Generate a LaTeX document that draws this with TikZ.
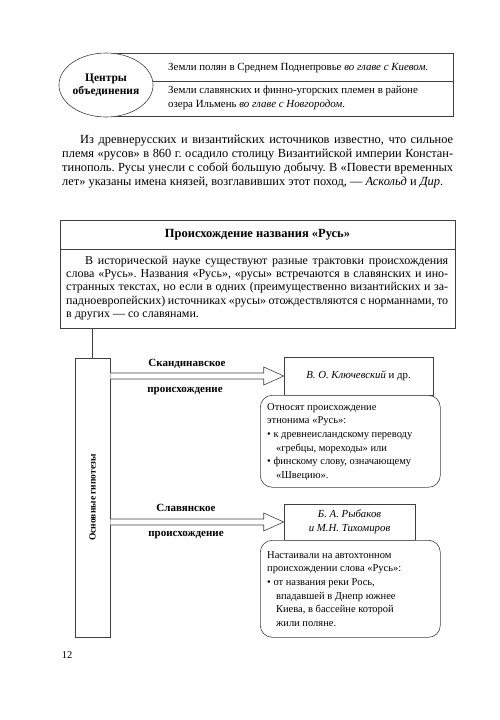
\documentclass[tikz,border=0pt]{standalone}
\usepackage{fontspec}
\setmainfont{Liberation Serif}
\usetikzlibrary{positioning,calc,shapes.geometric}

\tikzset{
  frame/.style={draw=black!75,line width=0.6pt},
  namebox/.style={frame,fill=white,inner sep=0pt,align=center,font=\fontsize{10.8}{13.5}\selectfont},
  note/.style={frame,fill=white,rounded corners=12pt,minimum width=180pt,inner sep=0pt},
  notetext/.style={anchor=north west,align=left,inner sep=0pt,font=\fontsize{10.5}{13.7}\selectfont},
  hyplabel/.style={font=\fontsize{11}{13}\selectfont\bfseries,inner sep=0pt}
}
% hollow wide arrow from #1 to the tip #2
\newcommand{\fatarrow}[2]{%
  \draw[frame,fill=white] ($(#1)+(0,-3)$) -- ($(#2)+(-20,-3)$) -- ($(#2)+(-20,-9)$)
    -- (#2) -- ($(#2)+(-20,9)$) -- ($(#2)+(-20,3)$) -- ($(#1)+(0,3)$);}

\begin{document}
\frenchspacing
\begin{tikzpicture}[x=1pt,y=-1pt,inner sep=0pt]
\useasboundingbox (0,0) rectangle (500,720);

% centres box
\draw[frame] (106,53) -- (453,53) -- (453,116) -- (106,116);
\draw[frame] (150,81) -- (453,81);
\node(c) at (106,85) [frame,ellipse,fill=white,minimum width=92pt,minimum height=64pt,align=center,
  font=\fontsize{11.5}{13.5}\selectfont\bfseries] {Центры\\объединения};
\node(z1) at (168,68) [anchor=west,font=\fontsize{10.9}{14}\selectfont]
  {Земли полян в Среднем Поднепровье \textit{во главе с Киевом}.};
\node(z2) at (168,86) [anchor=north west,align=left,font=\fontsize{10.9}{14}\selectfont]
  {Земли славянских и финно-угорских племен в районе\\озера Ильмень \textit{во главе с Новгородом}.};

% paragraph
\node(p) at (62,135) [anchor=north west,text width=391pt,align=justify,font=\fontsize{12.4}{14}\selectfont]
  {\hspace*{18pt}Из древнерусских и византийских источников известно, что сильное\linebreak
  племя «русов» в 860 г. осадило столицу Византийской империи Констан-\linebreak
  тинополь. Русы унесли с собой большую добычу. В «Повести временных\linebreak
  лет» указаны имена князей, возглавивших этот поход, — \textit{Аскольд} и \textit{Дир}.};

% origin box
\node(orig) at (257.5,274) [frame,minimum width=395pt,minimum height=108pt] {};
\draw[frame] (60,249) -- (455,249);
\node(h) at (257.5,235) [font=\fontsize{12.5}{14}\selectfont\bfseries] {Происхождение названия «Русь»};
\node(t) at (66,256) [anchor=north west,text width=382pt,align=justify,font=\fontsize{12}{13.2}\selectfont]
  {\hspace*{19pt}В исторической науке существуют разные трактовки происхождения\linebreak
  слова «Русь». Названия «Русь», «русы» встречаются в славянских и ино-\linebreak
  странных текстах, но если в одних (преимущественно византийских и за-\linebreak
  падноевропейских) источниках «русы» отождествляются с норманнами, то\linebreak
  в других — со славянами.};

% hypotheses
\node(hyp) at (92.5,497.5) [frame,minimum width=35pt,minimum height=279pt] {};
\node(hl) at (hyp) [font=\fontsize{9.5}{11}\selectfont\bfseries,rotate=90] {Основные гипотезы};
\draw[frame] (orig.south -| hyp.north) -- (hyp.north);

% scandinavian
\node(kl) at (358.5,376) [namebox,minimum width=149pt,minimum height=38pt] {\textit{В. О. Ключевский} и др.};
\coordinate(s1) at (hyp.east |- kl.west);
\fatarrow{s1}{kl.west}
\node(sk) at (187,364) [hyplabel] {Скандинавское};
\node(sk2) at (185,391) [hyplabel] {происхождение};
\node(op1) at (260,395) [note,anchor=north west,minimum height=92pt] {};
\node(tx1) at ($(op1.north west)+(7,8)$) [notetext]
  {Относят происхождение\\
  этнонима «Русь»:\\
  \textbullet\ к древнеисландскому переводу\\
  \hspace*{0.85em}«гребцы, мореходы» или\\
  \textbullet\ финскому слову, означающему\\
  \hspace*{0.85em}«Швецию».};

% slavic
\node(rb) at (349.5,522) [namebox,minimum width=131pt,minimum height=36pt]
  {\textit{Б. А. Рыбаков}\\\textit{и М.Н. Тихомиров}};
\coordinate(s2) at (hyp.east |- rb.west);
\fatarrow{s2}{rb.west}
\node(sl) at (186,508) [hyplabel] {Славянское};
\node(sl2) at (186,535) [hyplabel] {происхождение};
\node(op2) at (260,540) [note,anchor=north west,minimum height=97pt] {};
\node(tx2) at ($(op2.north west)+(7,11)$) [notetext]
  {Настаивали на автохтонном\\
  происхождении слова «Русь»:\\
  \textbullet\ от названия реки Рось,\\
  \hspace*{0.85em}впадавшей в Днепр южнее\\
  \hspace*{0.85em}Киева, в бассейне которой\\
  \hspace*{0.85em}жили поляне.};

\node(pg) at (67,655) [font=\fontsize{10.5}{12}\selectfont] {12};
\end{tikzpicture}
\end{document}
